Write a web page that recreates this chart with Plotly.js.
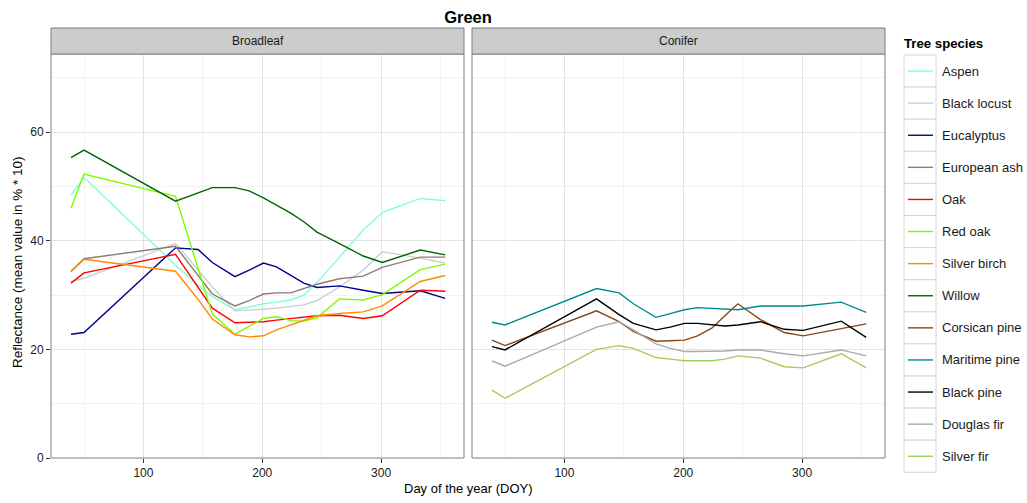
<!DOCTYPE html>
<html>
<head>
<meta charset="utf-8">
<script src="https://cdn.plot.ly/plotly-3.0.1.min.js"></script>
<style>html,body{margin:0;padding:0;background:#fff;}#chart{width:1027px;height:503px;}</style>
</head>
<body>
<div id="chart"></div>
<script>
// Day of year of each observation
const doy = [39, 50, 127, 146, 158, 177, 189, 201, 212, 224, 235, 246, 265, 285, 301, 333, 354];

// Broadleaf species
const aspen       = [48.4, 51.7, 35.5, 31.8, 29.7, 27.3, 27.8, 28.4, 28.7, 29.1, 30.0, 32.3, 37.0, 42.0, 45.2, 47.8, 47.4];
const blackLocust = [32.5, 33.1, 39.5, 34.5, 31.5, 27.1, 27.2, 27.4, 27.6, 27.9, 28.2, 29.0, 31.5, 34.6, 38.0, 36.8, 35.9];
const eucalyptus  = [22.8, 23.1, 38.7, 38.4, 36.0, 33.4, 34.6, 35.9, 35.2, 33.7, 32.2, 31.4, 31.7, 30.9, 30.3, 30.8, 29.4];
const europeanAsh = [34.4, 36.7, 39.0, 33.5, 30.2, 28.0, 29.0, 30.2, 30.4, 30.4, 31.2, 32.0, 33.0, 33.5, 35.1, 37.0, 37.0];
const oak         = [32.2, 34.1, 37.5, 31.3, 27.6, 24.9, 25.0, 25.1, 25.4, 25.7, 26.0, 26.2, 26.3, 25.7, 26.2, 30.9, 30.7];
const redOak      = [46.0, 52.3, 48.2, 35.0, 26.5, 22.8, 24.3, 25.7, 26.0, 25.3, 25.2, 25.8, 29.3, 29.1, 30.1, 34.7, 35.7];
const silverBirch = [34.3, 36.6, 34.4, 29.2, 25.6, 22.7, 22.3, 22.5, 23.6, 24.5, 25.4, 26.2, 26.6, 26.9, 28.0, 32.5, 33.6];
const willow      = [55.3, 56.7, 47.3, 48.9, 49.8, 49.8, 49.2, 47.9, 46.6, 45.1, 43.5, 41.6, 39.5, 37.2, 36.0, 38.3, 37.4];

// Conifer species
const corsicanPine = [21.7, 20.7, 27.1, 25.1, 23.3, 21.5, 21.6, 21.7, 22.5, 23.9, 26.2, 28.4, 25.5, 23.1, 22.5, 23.9, 24.7];
const maritimePine = [25.0, 24.5, 31.2, 30.4, 28.4, 25.9, 26.6, 27.3, 27.7, 27.6, 27.4, 27.3, 28.0, 28.0, 28.0, 28.7, 26.8];
const blackPine    = [20.5, 19.9, 29.3, 26.4, 24.8, 23.6, 24.1, 24.8, 24.8, 24.6, 24.3, 24.5, 25.1, 23.7, 23.5, 25.2, 22.2];
const douglasFir   = [17.9, 16.9, 24.1, 25.1, 23.6, 21.0, 20.2, 19.6, 19.6, 19.6, 19.7, 19.9, 19.9, 19.2, 18.8, 19.9, 18.8];
const silverFir    = [12.5, 11.0, 20.0, 20.7, 20.2, 18.5, 18.2, 17.9, 17.9, 17.9, 18.2, 18.8, 18.4, 16.8, 16.6, 19.2, 16.6];

const panels = ["Broadleaf", "Conifer"];
const species = ["Aspen", "Black locust", "Eucalyptus", "European ash", "Oak", "Red oak", "Silver birch", "Willow",
                 "Corsican pine", "Maritime pine", "Black pine", "Douglas fir", "Silver fir"];
const colors = ["#7FFFD4", "#C8D2D2", "#00008B", "#8B7D6B", "#FF0000", "#7CFC00", "#FF8C00", "#006400",
                "#8B4513", "#008B8B", "#000000", "#A9A9A9", "#A2CD5A"];
const values = [aspen, blackLocust, eucalyptus, europeanAsh, oak, redOak, silverBirch, willow,
                corsicanPine, maritimePine, blackPine, douglasFir, silverFir];
const group = [0,0,0,0,0,0,0,0,1,1,1,1,1];
const xTickVals = [100, 200, 300];
const yTickVals = [0, 20, 40, 60];

const FONT = "Liberation Sans, Arial, Helvetica, sans-serif";
const W = 1027, H = 503;
const L = 51, R = 885, T = 54, B = 458;
const px = X => (X - L) / (R - L);
const py = Y => (B - Y) / (B - T);

const traces = species.map((s, i) => ({
  type: "scatter", mode: "lines", name: s,
  x: doy, y: values[i],
  xaxis: group[i] === 0 ? "x" : "x2",
  yaxis: group[i] === 0 ? "y" : "y2",
  line: {color: colors[i], width: 1.4},
  showlegend: false, hoverinfo: "skip"
}));

const xCommon = {
  range: [22.2, 369.8], tickvals: xTickVals, ticktext: xTickVals.map(String),
  ticks: "outside", ticklen: 4, tickcolor: "#333", tickwidth: 1,
  showgrid: true, gridcolor: "#E3E3E3", gridwidth: 1, zeroline: false, showline: false,
  minor: {tickvals: [50, 150, 250, 350], showgrid: true, gridcolor: "#F2F2F2", gridwidth: 1, ticks: ""},
  tickfont: {family: FONT, size: 12, color: "#1a1a1a"}, fixedrange: true
};
const yCommon = {
  range: [0, 74.4], tickvals: yTickVals, ticktext: yTickVals.map(String),
  ticks: "outside", ticklen: 4, tickcolor: "#333", tickwidth: 1,
  showgrid: true, gridcolor: "#E3E3E3", gridwidth: 1, zeroline: false, showline: false,
  minor: {tickvals: [10, 30, 50, 70], showgrid: true, gridcolor: "#F2F2F2", gridwidth: 1, ticks: ""},
  tickfont: {family: FONT, size: 12, color: "#1a1a1a"}, fixedrange: true
};

const dom1 = [0, px(464)], dom2 = [px(472), 1];

const shapes = [];
const annotations = [];
// panel borders and strips
[dom1, dom2].forEach((d, k) => {
  shapes.push({type: "rect", xref: "paper", yref: "paper", x0: d[0], x1: d[1], y0: 0, y1: 1,
               line: {color: "#7F7F7F", width: 1}, fillcolor: "rgba(0,0,0,0)", layer: "above"});
  shapes.push({type: "rect", xref: "paper", yref: "paper", x0: d[0], x1: d[1], y0: py(54), y1: py(28),
               line: {color: "#7F7F7F", width: 1}, fillcolor: "#CCCCCC", layer: "above"});
  annotations.push({xref: "paper", yref: "paper", x: (d[0] + d[1]) / 2, y: py(41), text: panels[k],
                    showarrow: false, xanchor: "center", yanchor: "middle",
                    font: {family: FONT, size: 12, color: "#1a1a1a"}});
});

// legend (ggplot style keys)
const keyH = 32.1, keyTop = 55;
species.forEach((s, i) => {
  const top = keyTop + keyH * i, bot = top + keyH, mid = (top + bot) / 2;
  shapes.push({type: "rect", xref: "paper", yref: "paper", x0: px(904), x1: px(936), y0: py(bot), y1: py(top),
               line: {color: "#D6D6D6", width: 1}, fillcolor: "#FFFFFF"});
  shapes.push({type: "line", xref: "paper", yref: "paper", x0: px(908), x1: px(933), y0: py(mid), y1: py(mid),
               line: {color: colors[i], width: 1.4}});
  annotations.push({xref: "paper", yref: "paper", x: px(940), y: py(mid), text: s, showarrow: false,
                    xanchor: "left", yanchor: "middle", font: {family: FONT, size: 13, color: "#1a1a1a"}});
});
annotations.push({xref: "paper", yref: "paper", x: px(902), y: py(44), text: "<b>Tree species</b>", showarrow: false,
                  xanchor: "left", yanchor: "middle", font: {family: FONT, size: 13.2, color: "#000"}});

// axis titles
annotations.push({xref: "paper", yref: "paper", x: 0.5, y: py(488), text: "Day of the year (DOY)", showarrow: false,
                  xanchor: "center", yanchor: "middle", font: {family: FONT, size: 13, color: "#000"}});
annotations.push({xref: "paper", yref: "paper", x: px(17), y: py(262), text: "Reflectance (mean value in % * 10)",
                  showarrow: false, textangle: -90, xanchor: "center", yanchor: "middle",
                  font: {family: FONT, size: 13.5, color: "#000"}});

const layout = {
  width: W, height: H,
  margin: {l: L, r: W - R, t: T, b: H - B, pad: 0},
  paper_bgcolor: "#FFFFFF", plot_bgcolor: "#FFFFFF",
  title: {text: "<b>Green</b>", x: 0.5, xref: "paper", y: 1 - 17 / H, yref: "container",
          xanchor: "center", yanchor: "middle", font: {family: FONT, size: 16.5, color: "#000"}},
  xaxis: Object.assign({}, xCommon, {domain: dom1, anchor: "y"}),
  xaxis2: Object.assign({}, xCommon, {domain: dom2, anchor: "y2"}),
  yaxis: Object.assign({}, yCommon, {anchor: "x"}),
  yaxis2: Object.assign({}, yCommon, {anchor: "x2", matches: "y", showticklabels: false, ticks: ""}),
  showlegend: false,
  shapes: shapes, annotations: annotations
};

Plotly.newPlot("chart", traces, layout, {displayModeBar: false, staticPlot: true});
</script>
</body>
</html>
